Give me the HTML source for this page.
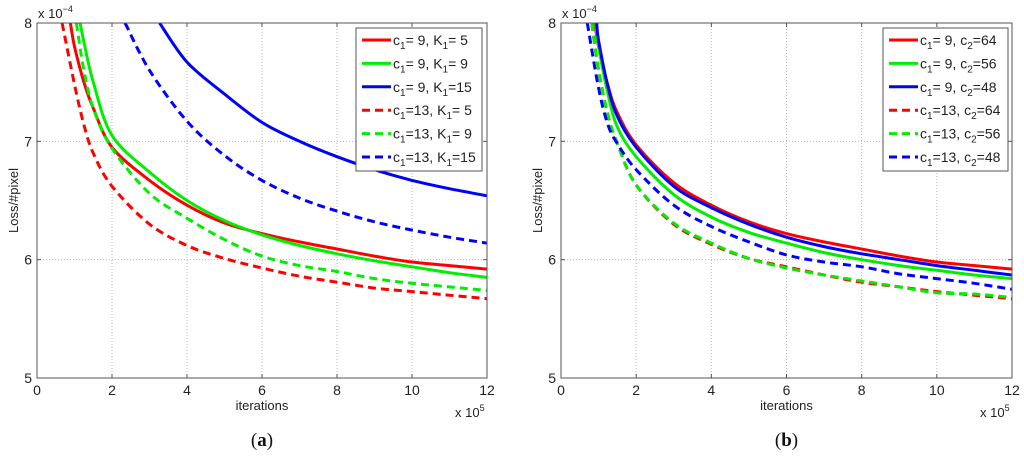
<!DOCTYPE html>
<html><head><meta charset="utf-8"><style>
body{margin:0;background:#fff;}
svg{display:block;font-family:"Liberation Sans",sans-serif;}
</style></head><body>
<svg id="fig" width="1024" height="456" viewBox="0 0 1024 456"></svg>
<script>
const xTicks=[0,2,4,6,8,10,12];
const yTicks=[5,6,7,8];
const colors=['#ff0000','#00ee00','#0000ff','#ff0000','#00ee00','#0000ff'];
const dashedFlags=[false,false,false,true,true,true];
// Panel (a)
const aLabels=[['9','K','5'],['9','K','9'],['9','K','15'],['13','K','5'],['13','K','9'],['13','K','15']];
const aX0=[0.89,1,1.25,1.5,2,3,4,5,6,7,8,9,10,11,12];
const aY0=[8,7.8,7.5,7.28,6.95,6.67,6.46,6.31,6.22,6.15,6.09,6.03,5.98,5.95,5.92];
const aX1=[1.15,1.25,1.5,2,3,4,5,6,7,8,9,10,11,12];
const aY1=[8,7.84,7.5,7.05,6.74,6.5,6.33,6.21,6.12,6.05,5.99,5.94,5.89,5.85];
const aX2=[3.27,4,5,6,7,8,9,10,11,12];
const aY2=[8,7.67,7.4,7.16,7.0,6.87,6.76,6.67,6.6,6.54];
const aX3=[0.67,1,1.25,1.5,2,3,4,5,6,7,8,9,10,11,12];
const aY3=[8,7.48,7.14,6.9,6.62,6.3,6.12,6.01,5.93,5.86,5.81,5.76,5.73,5.7,5.67];
const aX4=[1.05,1.25,1.5,2,3,4,5,6,7,8,9,10,11,12];
const aY4=[8,7.6,7.28,6.94,6.56,6.35,6.17,6.03,5.95,5.9,5.84,5.8,5.77,5.74];
const aX5=[2.35,3,4,5,6,7,8,9,10,11,12];
const aY5=[8,7.6,7.17,6.88,6.67,6.52,6.41,6.32,6.25,6.19,6.14];
// Panel (b)
const bLabels=[['9','c','64'],['9','c','56'],['9','c','48'],['13','c','64'],['13','c','56'],['13','c','48']];
const bX0=[0.9,1,1.25,1.5,2,3,4,5,6,7,8,9,10,11,12];
const bY0=[8,7.8,7.47,7.24,6.97,6.65,6.46,6.32,6.22,6.15,6.09,6.03,5.98,5.95,5.92];
const bX1=[0.92,1,1.25,1.5,2,3,4,5,6,7,8,9,10,11,12];
const bY1=[8,7.8,7.4,7.12,6.87,6.55,6.36,6.23,6.14,6.06,6.0,5.95,5.91,5.87,5.84];
const bX2=[0.95,1,1.25,1.5,2,3,4,5,6,7,8,9,10,11,12];
const bY2=[8,7.85,7.46,7.21,6.95,6.62,6.44,6.3,6.19,6.11,6.05,6.0,5.95,5.91,5.87];
const bX3=[0.82,1,1.25,1.5,2,3,4,5,6,7,8,9,10,11,12];
const bY3=[8,7.6,7.22,6.98,6.63,6.3,6.13,6.01,5.94,5.87,5.81,5.77,5.73,5.7,5.67];
const bX4=[0.82,1,1.25,1.5,2,3,4,5,6,7,8,9,10,11,12];
const bY4=[8,7.6,7.22,6.98,6.63,6.31,6.14,6.01,5.93,5.87,5.82,5.77,5.72,5.71,5.68];
const bX5=[0.7,1,1.25,1.5,2,3,4,5,6,7,8,9,10,11,12];
const bY5=[8,7.45,7.14,6.98,6.76,6.46,6.28,6.15,6.04,5.98,5.94,5.88,5.84,5.8,5.75];

const NS='http://www.w3.org/2000/svg';
const svg=document.getElementById('fig');
function mk(tag,attrs,parent){const e=document.createElementNS(NS,tag);for(const k in attrs)e.setAttribute(k,attrs[k]);(parent||svg).appendChild(e);return e;}
function smooth(pts){
  let d='M'+pts[0][0].toFixed(1)+','+pts[0][1].toFixed(1);
  for(let i=0;i<pts.length-1;i++){
    const p0=pts[i-1]||pts[i],p1=pts[i],p2=pts[i+1],p3=pts[i+2]||p2;
    const c1=[p1[0]+(p2[0]-p0[0])/6,p1[1]+(p2[1]-p0[1])/6];
    const c2=[p2[0]-(p3[0]-p1[0])/6,p2[1]-(p3[1]-p1[1])/6];
    d+='C'+c1[0].toFixed(1)+','+c1[1].toFixed(1)+' '+c2[0].toFixed(1)+','+c2[1].toFixed(1)+' '+p2[0].toFixed(1)+','+p2[1].toFixed(1);
  }
  return d;
}

function panel(id,x0,x1,y0,y1,seriesX,seriesY,labels,legX,legW,caption){
  const g=mk('g',{});
  
  
  const sx=v=>x0+(v-0)/12*(x1-x0);
  const sy=v=>y1-(v-5)/3*(y1-y0);
  xTicks.slice(1,-1).forEach(t=>{const l=mk('line',{x1:sx(t),x2:sx(t),y1:y0,y2:y1,stroke:'#bbb','stroke-dasharray':'1,2','stroke-width':1},g);});
  yTicks.slice(1,-1).forEach(t=>{const l=mk('line',{x1:x0,x2:x1,y1:sy(t),y2:sy(t),stroke:'#bbb','stroke-dasharray':'1,2','stroke-width':1},g);});
  const cp=mk('clipPath',{id:'clip'+id},g);mk('rect',{x:x0,y:y0,width:x1-x0,height:y1-y0},cp);
  seriesX.forEach((xs,i)=>{
    const ys=seriesY[i];
    const pts=xs.map((x,j)=>[sx(x),sy(ys[j])]);
    const p=mk('path',{d:smooth(pts),fill:'none',stroke:colors[i],'stroke-width':3,'stroke-linejoin':'round','clip-path':'url(#clip'+id+')'},g);
    if(dashedFlags[i])p.setAttribute('stroke-dasharray','8,5');
    
    
  });
  const fr=mk('rect',{x:x0,y:y0,width:x1-x0,height:y1-y0,fill:'none',stroke:'#555','stroke-width':1},g);
  
  xTicks.forEach(t=>{
    mk('line',{x1:sx(t),x2:sx(t),y1:y1,y2:y1-4,stroke:'#555'},g);mk('line',{x1:sx(t),x2:sx(t),y1:y0,y2:y0+4,stroke:'#555'},g);
    const tx=mk('text',{x:sx(t),y:y1+17,'font-size':14,'text-anchor':'middle',fill:'#222'},g);tx.textContent=t;
    
  });
  yTicks.forEach(t=>{
    mk('line',{x1:x0,x2:x0+4,y1:sy(t),y2:sy(t),stroke:'#555'},g);mk('line',{x1:x1,x2:x1-4,y1:sy(t),y2:sy(t),stroke:'#555'},g);
    const tx=mk('text',{x:x0-5,y:sy(t)+5,'font-size':14,'text-anchor':'end',fill:'#222'},g);tx.textContent=t;
    
  });
  const ex=mk('text',{x:x0+1,y:y0-5,'font-size':13,fill:'#222'},g);ex.innerHTML='x 10<tspan dy="-6" font-size="9">−4</tspan>';
  
  const ex2=mk('text',{x:x1-32,y:y1+39,'font-size':13,fill:'#222'},g);ex2.innerHTML='x 10<tspan dy="-6" font-size="9">5</tspan>';
  
  const xl=mk('text',{x:(x0+x1)/2,y:y1+32,'font-size':13,'text-anchor':'middle',fill:'#222'},g);xl.textContent='iterations';
  
  const yl=mk('text',{x:0,y:0,'font-size':13,'text-anchor':'middle',fill:'#222',transform:'translate('+(x0-19)+','+((y0+y1)/2)+') rotate(-90)'},g);yl.textContent='Loss/#pixel';
  
  const lg=mk('g',{},g);
  mk('rect',{x:legX,y:28,width:legW,height:143,fill:'#fff',stroke:'#555'},lg);
  labels.forEach((lab,i)=>{
    const yy=40+i*23.4;
    const l=mk('line',{x1:legX+6,x2:legX+35,y1:yy,y2:yy,stroke:colors[i],'stroke-width':3},lg);
    if(dashedFlags[i])l.setAttribute('stroke-dasharray','8,5');
    const t=mk('text',{x:legX+37,y:yy+5,'font-size':14,fill:'#222'},lg);
    const c1=lab[0].length<2?'= '+lab[0]:'='+lab[0];
    const c2=(lab[1]==='K'&&lab[2].length<2)?'= '+lab[2]:'='+lab[2];
    t.innerHTML='c<tspan dy="4" font-size="10">1</tspan><tspan dy="-4">'+c1+', '+lab[1]+'</tspan><tspan dy="4" font-size="10">'+(lab[1]==='K'?'1':'2')+'</tspan><tspan dy="-4">'+c2+'</tspan>';
    
  });
  const c=mk('text',{x:(x0+x1)/2,y:446,'font-size':19,'text-anchor':'middle','font-family':'Liberation Serif, serif',fill:'#111'},g);
  c.innerHTML='(<tspan font-weight="bold">'+caption+'</tspan>)';
  
}
panel('a',37,487,23,378,[aX0,aX1,aX2,aX3,aX4,aX5],[aY0,aY1,aY2,aY3,aY4,aY5],aLabels,356,126,'a');
panel('b',561,1012,23,378,[bX0,bX1,bX2,bX3,bX4,bX5],[bY0,bY1,bY2,bY3,bY4,bY5],bLabels,883,125,'b');
</script>
</body></html>
